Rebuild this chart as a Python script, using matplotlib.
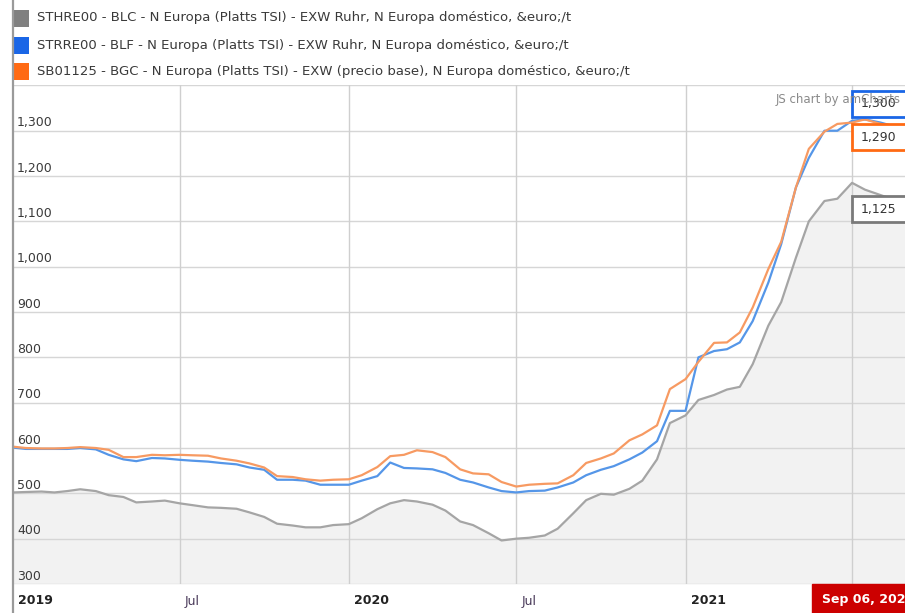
import matplotlib
matplotlib.use("Agg")
import matplotlib.pyplot as plt
import matplotlib.dates as mdates
from matplotlib.patches import Rectangle
from matplotlib.lines import Line2D
import pandas as pd

# ---------------- data ----------------
dates = [
    "2019-01-01", "2019-01-15", "2019-02-01", "2019-02-15", "2019-03-01", "2019-03-15",
    "2019-04-01", "2019-04-15", "2019-05-01", "2019-05-15", "2019-06-01", "2019-06-15",
    "2019-07-01", "2019-07-15", "2019-08-01", "2019-08-15", "2019-09-01", "2019-09-15",
    "2019-10-01", "2019-10-15", "2019-11-01", "2019-11-15", "2019-12-01", "2019-12-15",
    "2020-01-01", "2020-01-15", "2020-02-01", "2020-02-15", "2020-03-01", "2020-03-15",
    "2020-04-01", "2020-04-15", "2020-05-01", "2020-05-15", "2020-06-01", "2020-06-15",
    "2020-07-01", "2020-07-15", "2020-08-01", "2020-08-15", "2020-09-01", "2020-09-15",
    "2020-10-01", "2020-10-15", "2020-11-01", "2020-11-15", "2020-12-01", "2020-12-15",
    "2021-01-01", "2021-01-15", "2021-02-01", "2021-02-15", "2021-03-01", "2021-03-15",
    "2021-04-01", "2021-04-15", "2021-05-01", "2021-05-15", "2021-06-01", "2021-06-15",
    "2021-07-01", "2021-07-15", "2021-08-01", "2021-08-15", "2021-09-01", "2021-09-06",
]

sthre00_blc = [
    502, 503, 504, 502, 505, 509, 505, 496, 492, 480, 482, 484,
    478, 474, 469, 468, 466, 458, 448, 433, 429, 425, 425, 430,
    432, 445, 465, 478, 485, 482, 475, 462, 438, 430, 412, 396,
    400, 402, 407, 422, 456, 485, 499, 497, 510, 528, 575, 655,
    672, 706, 717, 729, 735, 785, 870, 922, 1020, 1100, 1145, 1150,
    1185, 1170, 1158, 1148, 1130, 1125,
]

strre00_blf = [
    601, 598, 598, 598, 598, 600, 597, 585, 575, 571, 578, 577,
    574, 572, 570, 567, 564, 557, 552, 530, 530, 528, 519, 519,
    519, 528, 538, 568, 556, 555, 553, 545, 530, 524, 513, 505,
    502, 505, 506, 513, 524, 540, 552, 560, 575, 590, 615, 682,
    682, 800, 814, 818, 833, 880, 965, 1050, 1175, 1240, 1300, 1300,
    1322, 1325, 1318, 1310, 1302, 1300,
]

sb01125_bgc = [
    603, 600, 599, 599, 600, 602, 600, 596, 580, 580, 585, 584,
    585, 584, 583, 577, 572, 566, 557, 538, 536, 531, 528, 530,
    531, 540, 558, 582, 585, 595, 591, 580, 553, 544, 542, 525,
    515, 519, 521, 522, 540, 567, 577, 588, 617, 630, 650, 730,
    752, 790, 832, 833, 855, 910, 995, 1055, 1175, 1260, 1298, 1315,
    1318, 1325, 1315, 1305, 1295, 1290,
]

legend_labels = [
    "STHRE00 - BLC - N Europa (Platts TSI) - EXW Ruhr, N Europa doméstico, &euro;/t",
    "STRRE00 - BLF - N Europa (Platts TSI) - EXW Ruhr, N Europa doméstico, &euro;/t",
    "SB01125 - BGC - N Europa (Platts TSI) - EXW (precio base), N Europa doméstico, &euro;/t",
]
y_ticks = [300, 400, 500, 600, 700, 800, 900, 1000, 1100, 1200, 1300, 1400]
x_grid_dates = ["2019-07-01", "2020-01-01", "2020-07-01", "2021-01-01", "2021-07-01"]
x_tick_dates = ["2019-01-01", "2019-07-01", "2020-01-01", "2020-07-01", "2021-01-01"]
x_tick_labels = ["2019", "Jul", "2020", "Jul", "2021"]
x_tick_bold = [True, False, True, False, True]
cursor_label = "Sep 06, 2021"

# ---------------- style ----------------
W, H = 905, 613
legend_colors = ["#808080", "#1a66e6", "#ff6a13"]
line_colors = ["#a5a5a5", "#5596e8", "#f79a62"]
balloon_edge = ["#7a7a7a", "#1a66e6", "#ff6a13"]
TXT = "#3a3a3a"

plt.rcParams["font.family"] = ["DejaVu Sans"]

fig = plt.figure(figsize=(W / 100, H / 100), dpi=100)
fig.patch.set_facecolor("white")

def px2fx(v):
    return v / W

def px2fy(v):
    return 1 - v / H

x = pd.to_datetime(dates)
left_px, right_px, top_px, bot_px = 13, 913.7, 85.4, 584
ax = fig.add_axes([px2fx(left_px), px2fy(bot_px),
                   px2fx(right_px - left_px), (bot_px - top_px) / H])
ax.set_xlim(x[0], x[-1])
ax.set_ylim(300, 1400)
ax.set_facecolor("white")
for s in ax.spines.values():
    s.set_visible(False)
ax.set_xticks([])
ax.set_yticks([])

# fill under gray series
ax.fill_between(x, sthre00_blc, 300, color="#f2f2f2", lw=0, zorder=1)

# grid
for v in y_ticks:
    ax.axhline(v, color="#d6d6d6", lw=1.0, zorder=2)
for d in pd.to_datetime(x_grid_dates):
    ax.axvline(d, color="#cfcfcf", lw=1.0, zorder=2)

# lines
series = [sthre00_blc, strre00_blf, sb01125_bgc]
for vals, c in zip(series, line_colors):
    ax.plot(x, vals, color=c, lw=1.6, zorder=4, solid_joinstyle="round")

# y tick labels (inside, above gridlines)
for v in y_ticks[:-1]:
    ax.annotate(f"{v:,}", xy=(0, v), xycoords=("axes fraction", "data"),
                xytext=(4, 1.5), textcoords="offset pixels", ha="left", va="bottom",
                fontsize=9, color=TXT, zorder=5)

# x tick labels
for d, lab, b in zip(pd.to_datetime(x_tick_dates), x_tick_labels, x_tick_bold):
    ax.annotate(lab, xy=(d, 0), xycoords=("data", "axes fraction"),
                xytext=(5, -17), textcoords="offset pixels", ha="left", va="center",
                fontsize=9, color="#222222" if b else "#4a3a5a",
                fontweight="bold" if b else "normal", annotation_clip=False)

# left axis line across the whole height
fig.add_artist(Line2D([px2fx(12.5), px2fx(12.5)], [0, 1], color="#9a9a9a", lw=1.6))

# legend
rows_y = [18, 45, 71]
for lab, c, ry in zip(legend_labels, legend_colors, rows_y):
    fig.add_artist(Rectangle((px2fx(13), px2fy(ry + 8.5)), 16 / W, 17 / H,
                             facecolor=c, edgecolor="none", transform=fig.transFigure))
    fig.text(px2fx(37), px2fy(ry), lab, ha="left", va="center", fontsize=9.5, color=TXT)

# balloons at the cursor date (boxes run past the right edge, as in the source)
last = x[-1]
finals = [sthre00_blc[-1], strre00_blf[-1], sb01125_bgc[-1]]
dys = [1, 27, -2]
box_h = 26
for val, ec, dy in zip(finals, balloon_edge, dys):
    xd, yd = ax.transData.transform((mdates.date2num(last), val))
    yc = yd + dy
    bx0 = xd - 61.7
    fig.add_artist(Rectangle((bx0 / W, (yc - box_h / 2) / H), (W + 20 - bx0) / W, box_h / H,
                             facecolor="white", edgecolor=ec, lw=2,
                             transform=fig.transFigure, zorder=8))
    fig.text((bx0 + 9) / W, yc / H, f"{val:,}", ha="left", va="center",
             fontsize=9, color="#333333", zorder=9)

# watermark
fig.text(px2fx(776), px2fy(100), "JS chart by amCharts", ha="left", va="center",
         fontsize=8.5, color="#8a8a8a", zorder=20)

# cursor date label
ax.annotate(cursor_label, xy=(last, 0), xycoords=("data", "axes fraction"),
            xytext=(-92, -15.5), textcoords="offset pixels", ha="left", va="center",
            fontsize=9, color="white", fontweight="bold", annotation_clip=False, zorder=9,
            bbox=dict(boxstyle="square,pad=0.75", fc="#cc0000", ec="#cc0000", lw=1))

fig.savefig("out.png", dpi=100)
